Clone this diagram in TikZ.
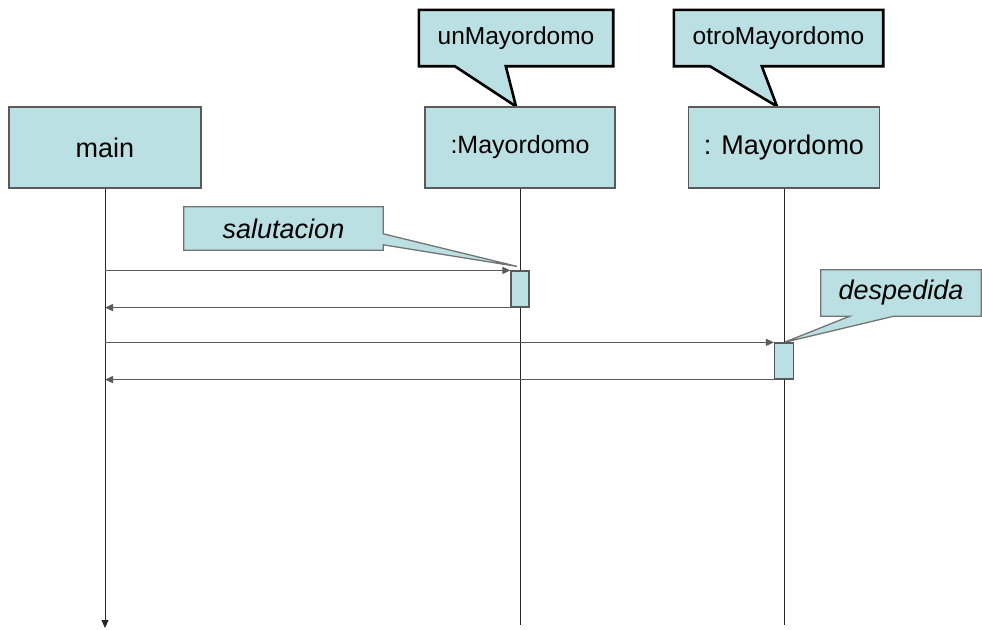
\documentclass[tikz,border=0pt]{standalone}
\usepackage{fontspec}
\setmainfont{Liberation Sans}
\usetikzlibrary{arrows.meta,calc,backgrounds}
\definecolor{boxfill}{HTML}{BBE0E3}
\definecolor{lineg}{HTML}{5A5A5A}

\begin{document}
\begin{tikzpicture}[x=1pt, y=-1pt, >={Triangle[length=8pt,width=7pt]},
  obj/.style={draw=lineg, fill=boxfill, line width=1.2pt, minimum height=81pt, inner sep=0pt},
  act/.style={draw=lineg, fill=boxfill, line width=1.2pt, minimum width=18pt, minimum height=36pt, inner sep=0pt},
  life/.style={draw=black!85, line width=0.9pt},
  msg/.style={draw=lineg, line width=1.4pt, ->},
  note/.style={fill=boxfill, draw=black, line width=2.6pt, line join=miter},
  tag/.style={fill=boxfill, draw=lineg!85, line width=1.3pt},
  big/.style={font=\fontsize{27}{32}\selectfont},
  verb/.style={font=\fontsize{27}{32}\selectfont\itshape}]
\useasboundingbox (0,0) rectangle (982,629);
% objects
\node[obj, big, minimum width=192pt] (main) at (105,147.5) {main};
\node[obj, font=\fontsize{25}{30}\selectfont, minimum width=190pt] (o1) at (520,147.5) {:Mayordomo};
\node[obj, big, minimum width=191pt] (o2) at (784,147.5) {: Mayordomo};
% lifelines
\coordinate (e0) at (105,628); \coordinate (e1) at (520,625); \coordinate (e2) at (784,625);
\draw[life, ->] (main.south) -- (e0);
\draw[life] (o1.south) -- (e1);
\draw[life] (o2.south) -- (e2);
% activations
\node[act] (a1) at (520,289) {};
\node[act, minimum width=19pt] (a2) at (784,361) {};
% messages
\draw[msg] (main.south |- a1.north west) -- (a1.north west);
\draw[msg] (a1.south west) -- (main.south |- a1.south west);
\draw[msg] (main.south |- a2.north west) -- (a2.north west);
\draw[msg] (a2.south west) -- (main.south |- a2.south west);
% callouts
\node[font=\fontsize{24.5}{29}\selectfont, minimum width=194pt, minimum height=56pt] (cUn) at (516,38) {unMayordomo};
\node[font=\fontsize{24.5}{29}\selectfont, minimum width=209pt, minimum height=56pt] (cOtro) at (778.5,38) {otroMayordomo};
\node[verb, minimum width=199pt, minimum height=43pt] (cSal) at (283.5,228.5) {salutacion};
\node[verb, minimum width=160pt, minimum height=46pt] (cDes) at (901,293) {despedida};
\begin{scope}[on background layer]
\draw[note] (cUn.north west) -- (cUn.north east) -- (cUn.south east) -- ($(cUn.south west)+(87,0)$)
  -- ($(o1.north)+(-4,0)$) -- ($(cUn.south west)+(36,0)$) -- (cUn.south west) -- cycle;
\draw[note] (cOtro.north west) -- (cOtro.north east) -- (cOtro.south east) -- ($(cOtro.south west)+(88,0)$)
  -- ($(o2.north)+(-7,0)$) -- ($(cOtro.south west)+(36,0)$) -- (cOtro.south west) -- cycle;
\draw[tag] (cSal.north west) -- (cSal.north east) -- ($(cSal.north east)+(0,27)$)
  -- ($(a1.north)+(-3,-4)$) -- ($(cSal.north east)+(0,38)$) -- (cSal.south east) -- (cSal.south west) -- cycle;
\draw[tag] (cDes.north west) -- (cDes.north east) -- (cDes.south east) -- ($(cDes.south west)+(73,0)$)
  -- (a2.north) -- ($(cDes.south west)+(29,0)$) -- (cDes.south west) -- cycle;
\end{scope}
\end{tikzpicture}
\end{document}
